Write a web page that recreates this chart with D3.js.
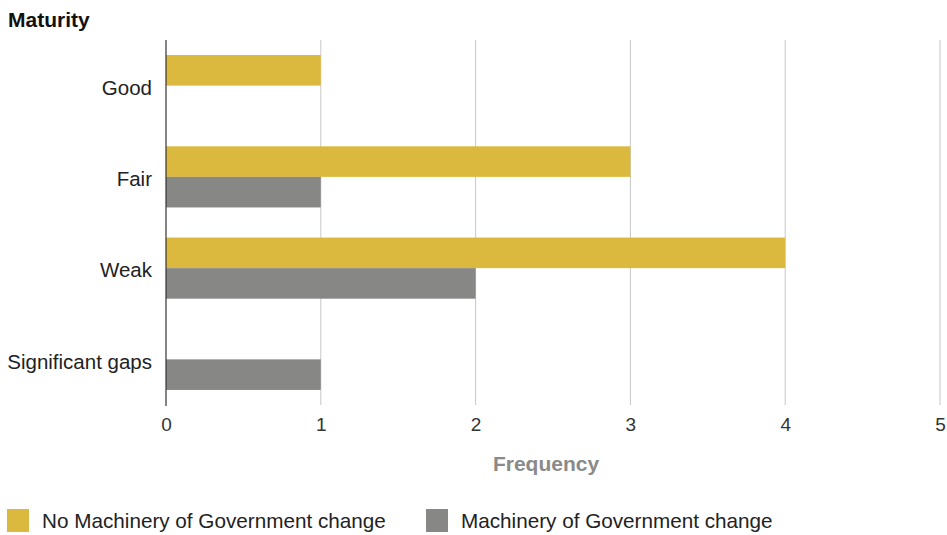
<!DOCTYPE html>
<html>
<head>
<meta charset="utf-8">
<script src="https://cdn.jsdelivr.net/npm/d3@7"></script>
<style>
  html, body { margin: 0; padding: 0; background: #fff; }
  svg { display: block; font-family: "Liberation Sans", Arial, sans-serif; }
</style>
</head>
<body>
<svg id="chart" width="947" height="535"></svg>
<script>
// Maturity ratings, counted per group
const categories = ["Good", "Fair", "Weak", "Significant gaps"];
const seriesNames = ["No Machinery of Government change", "Machinery of Government change"];
const noMogChange = [1, 3, 4, 0];
const mogChange = [0, 1, 2, 1];
const xTicks = [0, 1, 2, 3, 4, 5];
const colors = ["#dbb93f", "#878786"];

const svg = d3.select("#chart");
const plotLeft = 166, plotRight = 940, plotTop = 40, plotBottom = 405;

const x = d3.scaleLinear().domain([0, 5]).range([plotLeft, plotRight]);
const y0 = d3.scaleBand().domain(categories).range([plotTop, plotBottom])
  .paddingInner(0.33).paddingOuter(0.165);
const y1 = d3.scaleBand().domain(seriesNames).range([0, y0.bandwidth()]);

// vertical gridlines
svg.append("g")
  .selectAll("line")
  .data(xTicks.filter(t => t > 0))
  .join("line")
  .attr("x1", d => x(d)).attr("x2", d => x(d))
  .attr("y1", plotTop).attr("y2", plotBottom)
  .attr("stroke", "#c8c8c8").attr("stroke-width", 1);

// bars
const rows = categories.map((c, i) => ({ cat: c, vals: [noMogChange[i], mogChange[i]] }));
const groups = svg.append("g").selectAll("g")
  .data(rows).join("g")
  .attr("transform", d => `translate(0,${y0(d.cat)})`);
groups.selectAll("rect")
  .data(d => d.vals.map((v, j) => ({ v, s: seriesNames[j], j })))
  .join("rect")
  .attr("x", x(0))
  .attr("y", d => y1(d.s))
  .attr("width", d => x(d.v) - x(0))
  .attr("height", y1.bandwidth())
  .attr("fill", d => colors[d.j]);

// baseline
svg.append("line")
  .attr("x1", x(0)).attr("x2", x(0))
  .attr("y1", plotTop).attr("y2", plotBottom + 1)
  .attr("stroke", "#333").attr("stroke-width", 1.2);

// x axis tick labels
const xAxis = d3.axisBottom(x).tickValues(xTicks).tickSize(0).tickPadding(13).tickFormat(d3.format("d"));
const gx = svg.append("g").attr("transform", `translate(0,${plotBottom})`).call(xAxis);
gx.select(".domain").remove();
gx.selectAll("text").attr("font-size", 19).attr("fill", "#333").attr("font-family", "Liberation Sans, Arial, sans-serif");

// category labels
const yAxis = d3.axisLeft(y0).tickSize(0).tickPadding(14);
const gy = svg.append("g").attr("transform", `translate(${plotLeft},0)`).call(yAxis);
gy.select(".domain").remove();
gy.selectAll("text").attr("font-size", 20.5).attr("dy", "0.45em").attr("fill", "#222").attr("font-family", "Liberation Sans, Arial, sans-serif");

// titles
svg.append("text").attr("x", 8).attr("y", 27)
  .attr("font-size", 21).attr("font-weight", "bold").attr("fill", "#111")
  .text("Maturity");
svg.append("text").attr("x", 546).attr("y", 471)
  .attr("text-anchor", "middle")
  .attr("font-size", 21).attr("font-weight", "bold").attr("fill", "#8a8a8a")
  .text("Frequency");

// legend
const legendX = [7, 426];
const lg = svg.append("g").selectAll("g").data(seriesNames).join("g")
  .attr("transform", (d, i) => `translate(${legendX[i]},509)`);
lg.append("rect").attr("width", 22).attr("height", 23).attr("fill", (d, i) => colors[i]);
lg.append("text").attr("x", 35).attr("y", 19)
  .attr("font-size", 20.7).attr("fill", "#222").text(d => d);
</script>
</body>
</html>
